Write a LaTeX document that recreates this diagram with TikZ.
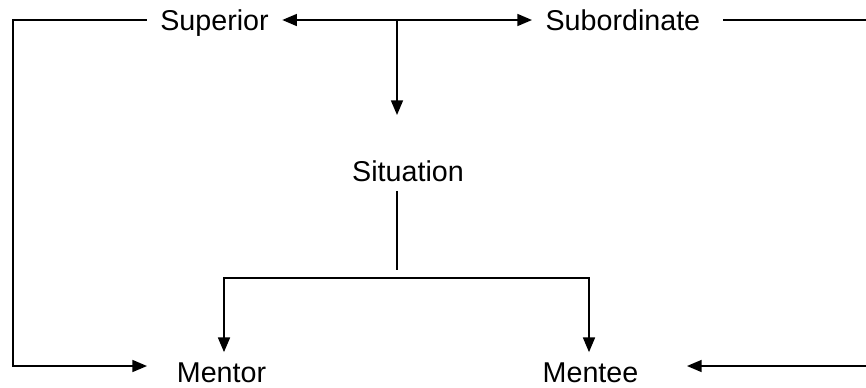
\documentclass[tikz,border=0pt]{standalone}
\usepackage{tikz}
\usepackage{fontspec}
\setmainfont{Liberation Sans}
\usetikzlibrary{arrows.meta}
\tikzstyle{term} = [text height=15.4pt, text depth=0pt, inner xsep=10pt, inner ysep=7pt, font=\fontsize{21.5}{26}\selectfont]
\tikzstyle{line} = [line width=1.2pt, black]
\tikzstyle{arrow} = [line width=1.2pt, black, -{Triangle[length=11pt, width=9pt]}]
\tikzstyle{dblarrow} = [line width=1.2pt, black, {Triangle[length=11pt, width=9pt]}-{Triangle[length=11pt, width=9pt]}]

\begin{document}
\begin{tikzpicture}[x=0.75pt, y=-0.75pt]
    \useasboundingbox (0,0) rectangle (866,387);
    \node (sup) [term] at (214.5,20) {Superior};
    \node (sub) [term, right of = sup, node distance=306.3pt] {Subordinate};
    \node (sit) [term] at (408,171) {Situation};
    \node (mentor) [term] at (221.5,372) {Mentor};
    \node (mentee) [term, right of = mentor, node distance=276.75pt] {Mentee};
    \coordinate (lcorner) at (13,366);
    \coordinate (rcorner) at (868,366);
    \coordinate (mentorin) at (147,366);
    \coordinate (menteein) at (687,366);
    \coordinate (fork) at (397,20);
    \coordinate (sitin) at (397,115);
    \coordinate (split) at (397,270);
    \coordinate (lbend) at (224,278);
    \coordinate (rbend) at (589,278);
    \draw[arrow] (sup.west) -| (lcorner) -- (mentorin);
    \draw[dblarrow] (sup.east) -- (sub.west);
    \draw[arrow] (fork) -- (sitin);
    \draw[arrow] ([xshift=7pt]sub.east) -| (rcorner) -- (menteein);
    \draw[line] (sit.south -| split) -- (split);
    \draw[dblarrow] (lbend |- mentor.north) -- (lbend) -- (rbend) -- (rbend |- mentee.north);
\end{tikzpicture}
\end{document}
